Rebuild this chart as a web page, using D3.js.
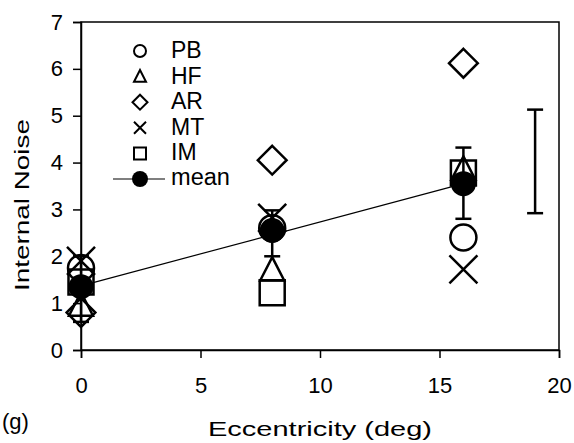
<!DOCTYPE html>
<html>
<head>
<meta charset="utf-8">
<script src="https://cdn.jsdelivr.net/npm/d3@7"></script>
<style>
  body { margin: 0; background: #fff; }
  text { font-family: "Liberation Sans", Arial, sans-serif; fill: #000; }
</style>
</head>
<body>
<svg id="chart" width="574" height="443"></svg>
<script>
// eccentricities (deg)
const ecc = [0, 8, 16];
// per-observer internal noise
const subjects = ['PB', 'HF', 'AR', 'MT', 'IM'];
const shapes = ['circle', 'triangle', 'diamond', 'cross', 'square'];
const PB = [1.75, 2.6, 2.4];
const HF = [0.95, 1.7, 3.85];
const AR = [0.8, 4.05, 6.12];
const MT = [1.9, 2.82, 1.72];
const IM = [1.45, 1.22, 3.78];
const series = [PB, HF, AR, MT, IM];
// mean with error bars
const meanVals = [1.35, 2.55, 3.55];
const meanLo = [0.6, 2.0, 2.8];
const meanHi = [2.0, 2.98, 4.32];
// regression line endpoints
const fitX = [0, 16];
const fitY = [1.37, 3.55];
// typical error bar
const typX = 19, typLo = 2.92, typHi = 5.13;

const xTicks = [0, 5, 10, 15, 20];
const yTicks = [0, 1, 2, 3, 4, 5, 6, 7];

const svg = d3.select('#chart');
const x = d3.scaleLinear().domain([0, 20]).range([81, 559]);
const y = d3.scaleLinear().domain([0, 7]).range([350, 22]);
const FONT = '"Liberation Sans", Arial, sans-serif';
// marker half-size per shape
const markerSize = { circle: 13, triangle: 12, diamond: 11.5, cross: 14, square: 12.5 };

// frame
svg.append('rect')
  .attr('x', x(0)).attr('y', y(7))
  .attr('width', x(20) - x(0)).attr('height', y(0) - y(7))
  .attr('fill', 'none').attr('stroke', '#000').attr('stroke-width', 1.5);

const xAxis = svg.append('g')
  .attr('transform', `translate(0,${y(0)})`)
  .call(d3.axisBottom(x).tickValues(xTicks).tickFormat(d3.format('d')).tickSize(8).tickPadding(19));
const yAxis = svg.append('g')
  .attr('transform', `translate(${x(0)},0)`)
  .call(d3.axisLeft(y).tickValues(yTicks).tickFormat(d3.format('d')).tickSize(8).tickPadding(10));
[xAxis, yAxis].forEach(a => {
  a.attr('font-size', 22).attr('font-family', FONT);
  a.select('.domain').attr('stroke-width', 1.5);
  a.selectAll('.tick line').attr('stroke-width', 1.5);
  a.selectAll('text').attr('fill', '#000');
});

svg.append('text').attr('x', 320).attr('y', 436).attr('text-anchor', 'middle')
  .attr('font-size', 21).attr('textLength', 224).attr('lengthAdjust', 'spacingAndGlyphs')
  .text('Eccentricity (deg)');
svg.append('text').attr('x', 2).attr('y', 429).attr('font-size', 22).text('(g)');
svg.append('text')
  .attr('transform', `translate(29,${(y(0) + y(7)) / 2 + 19}) rotate(-90)`)
  .attr('text-anchor', 'middle').attr('font-size', 21)
  .attr('textLength', 172).attr('lengthAdjust', 'spacingAndGlyphs')
  .text('Internal Noise');

function markerPath(shape, s) {
  switch (shape) {
    case 'circle': return d3.symbol(d3.symbolCircle, Math.PI * s * s)();
    case 'square': return `M${-s},${-s}H${s}V${s}H${-s}Z`;
    case 'diamond': return `M0,${-s * 1.25}L${s * 1.25},0L0,${s * 1.25}L${-s * 1.25},0Z`;
    case 'triangle': return `M0,${-s * 1.1}L${s},${s * 0.85}L${-s},${s * 0.85}Z`;
    case 'cross': return `M${-s},${-s}L${s},${s}M${s},${-s}L${-s},${s}`;
  }
}

// regression line
svg.append('line')
  .attr('x1', x(fitX[0])).attr('y1', y(fitY[0]))
  .attr('x2', x(fitX[1])).attr('y2', y(fitY[1]))
  .attr('stroke', '#000').attr('stroke-width', 1.2);

// observer markers
series.forEach((vals, i) => {
  svg.append('g').selectAll('path')
    .data(vals)
    .join('path')
    .attr('transform', (d, j) => `translate(${x(ecc[j])},${y(d)})`)
    .attr('d', markerPath(shapes[i], markerSize[shapes[i]]))
    .attr('fill', 'none')
    .attr('stroke', '#000').attr('stroke-width', 2.5);
});

// mean error bars
function errBar(g, xv, lo, hi) {
  g.append('line').attr('x1', x(xv)).attr('x2', x(xv)).attr('y1', y(lo)).attr('y2', y(hi))
    .attr('stroke', '#000').attr('stroke-width', 2.5);
  [lo, hi].forEach(v => g.append('line')
    .attr('x1', x(xv) - 8).attr('x2', x(xv) + 8).attr('y1', y(v)).attr('y2', y(v))
    .attr('stroke', '#000').attr('stroke-width', 2.5));
}
const eb = svg.append('g');
ecc.forEach((e, i) => errBar(eb, e, meanLo[i], meanHi[i]));
errBar(svg.append('g'), typX, typLo, typHi);

svg.append('g').selectAll('circle')
  .data(meanVals)
  .join('circle')
  .attr('cx', (d, i) => x(ecc[i])).attr('cy', d => y(d)).attr('r', 12.5)
  .attr('fill', '#000');

// legend
const legY = d3.scalePoint().domain([...subjects, 'mean']).range([51, 179]);
const leg = svg.append('g');
subjects.forEach((s, i) => {
  leg.append('path')
    .attr('transform', `translate(140,${legY(s)})`)
    .attr('d', markerPath(shapes[i], 6))
    .attr('fill', 'none').attr('stroke', '#000').attr('stroke-width', 2);
  leg.append('text').attr('x', 171).attr('y', legY(s) + 7).attr('font-size', 23).text(s);
});
leg.append('line').attr('x1', 113).attr('x2', 165).attr('y1', legY('mean')).attr('y2', legY('mean'))
  .attr('stroke', '#000').attr('stroke-width', 1.2);
leg.append('circle').attr('cx', 140).attr('cy', legY('mean')).attr('r', 8).attr('fill', '#000');
leg.append('text').attr('x', 171).attr('y', legY('mean') + 6).attr('font-size', 23)
  .attr('textLength', 59).attr('lengthAdjust', 'spacingAndGlyphs').text('mean');
</script>
</body>
</html>
